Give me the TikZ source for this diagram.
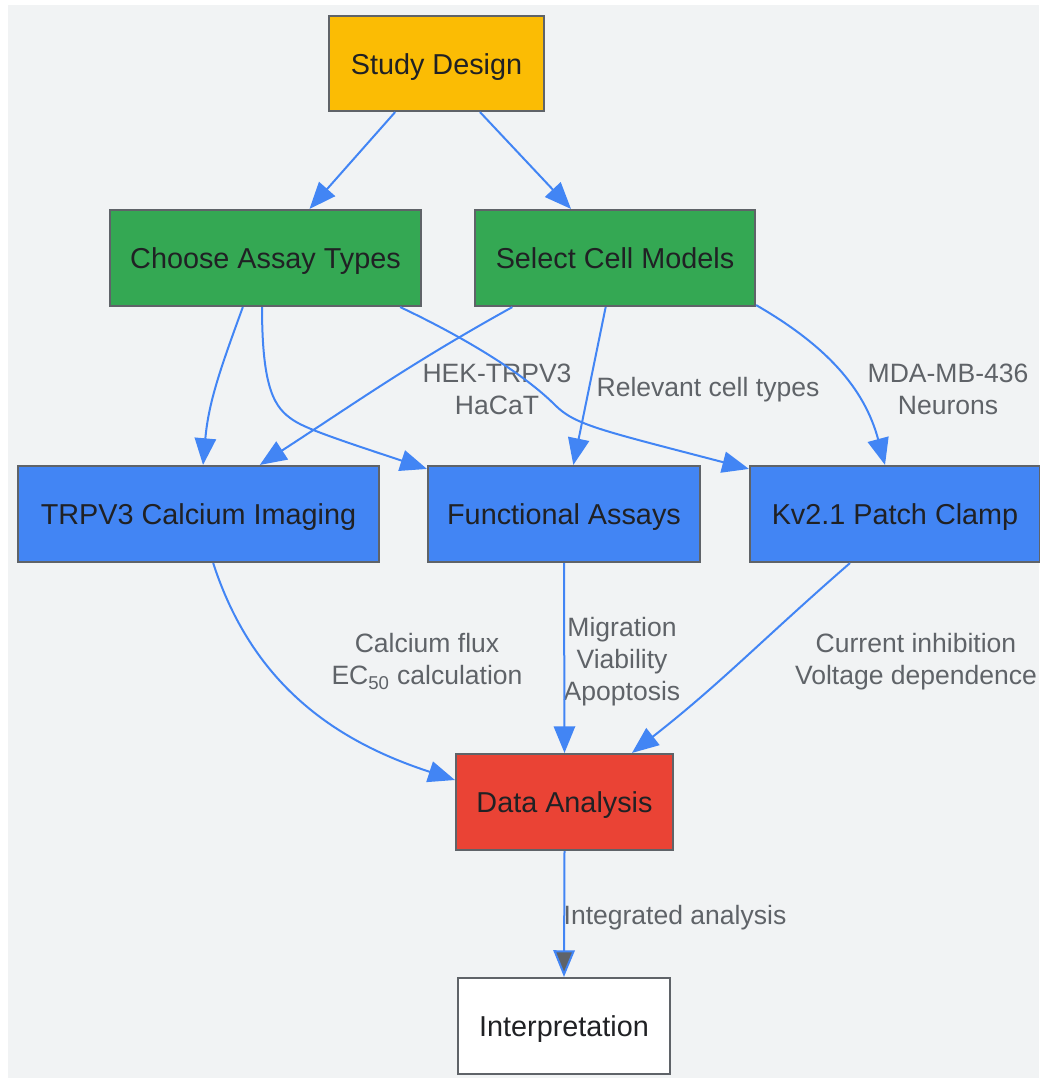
\documentclass[tikz,border=0pt]{standalone}
\usepackage{fontspec}
\setmainfont{Liberation Sans}
\usetikzlibrary{arrows.meta}

\definecolor{bgGray}{HTML}{F1F3F4}
\definecolor{lineGray}{HTML}{5F6368}
\definecolor{gYellow}{HTML}{FBBC04}
\definecolor{gGreen}{HTML}{34A853}
\definecolor{gBlue}{HTML}{4285F4}
\definecolor{gRed}{HTML}{EA4335}
\definecolor{txtDark}{HTML}{202124}

\begin{document}
\begin{tikzpicture}[x=0.75pt,y=-0.75pt,
  box/.style={draw=lineGray,line width=1.6pt,minimum height=72pt,inner sep=0pt,text height=16pt,text depth=0pt,text=txtDark,font=\fontsize{21.6}{26}\selectfont},
  lbl/.style={text=lineGray,align=center,font=\fontsize{19.9}{24}\selectfont},
  flow/.style={draw=gBlue,line width=1.5pt,-{Triangle[length=20pt,width=16pt]}}]

\useasboundingbox (0,0) rectangle (1039,1078);
\fill[bgGray] (8,5) rectangle (1039,1078);

% boxes
\node[box,fill=gYellow,minimum width=161.25pt,minimum height=71.25pt] (study) at (436.5,63.5) {Study Design};
\node[box,fill=gGreen,minimum width=233.25pt] (choose) at (265.5,258) {Choose Assay Types};
\node[box,fill=gGreen,minimum width=210pt] (select) at (615,258) {Select Cell Models};
\node[box,fill=gBlue,minimum width=270.75pt] (trpv3) at (198.5,514) {TRPV3 Calcium Imaging};
\node[box,fill=gBlue,minimum width=204pt] (func) at (564,514) {Functional Assays};
\node[box,fill=gBlue,minimum width=217.5pt] (kv) at (895,514) {Kv2.1 Patch Clamp};
\node[box,fill=gRed,minimum width=162.75pt] (data) at (564.5,802) {Data Analysis};
\node[box,fill=white,minimum width=159pt] (interp) at (564,1026) {Interpretation};

% edge labels
\node[lbl] (lblhek) at (497,389.5) {HEK-TRPV3\\HaCaT};
\node[lbl] (lblrel) at (708,389.5) {Relevant cell types};
\node[lbl] (lblmda) at (948,389.5) {MDA-MB-436\\Neurons};
\node[lbl] (lblca) at (427,661.5) {Calcium flux\\EC\textsubscript{50} calculation};
\node[lbl] (lblmig) at (622,661.5) {Migration\\Viability\\Apoptosis};
\node[lbl] (lblcur) at (916,661.5) {Current inhibition\\Voltage dependence};
\node[lbl] (lblint) at (675,917.5) {Integrated analysis};

% connectors
\draw[flow] ([xshift=-31pt]study.south) -- ([xshift=33pt]choose.north);
\draw[flow] ([xshift=32.6pt]study.south) -- ([xshift=-33pt]select.north);
\draw[flow] ([xshift=-17pt]choose.south) to[out=-110,in=85] ([xshift=3.4pt]trpv3.north);
\draw[flow] ([xshift=-2.6pt]choose.south) .. controls (262,390) and (275,408) .. (293,420) .. controls (305,428) and (330,437) .. ([yshift=-3pt]func.north west);
\draw[flow] ([xshift=101pt]choose.south) .. controls (480,345) and (530,380) .. (555,405) .. controls (575,425) and (600,430) .. ([yshift=-3pt]kv.north west);
\draw[flow] ([xshift=-77pt]select.south) to[out=-151,in=33] ([xshift=46pt]trpv3.north);
\draw[flow] ([xshift=-7pt]select.south) -- ([xshift=7pt]func.north);
\draw[flow] ([yshift=1.5pt]select.south east) to[out=-30,in=105] ([xshift=-7.5pt]kv.north);
\draw[flow] ([xshift=11pt]trpv3.south) to[out=-72,in=162] ([yshift=16.5pt]data.west);
\draw[flow] (func.south) -- (data.north);
\draw[flow] ([xshift=-33.75pt]kv.south) to[out=-139,in=38] ([xshift=50.6pt]data.north);
\draw[flow,-{Triangle[length=20pt,width=16pt,fill=lineGray]}] (data.south) -- (interp.north);

\end{tikzpicture}
\end{document}
